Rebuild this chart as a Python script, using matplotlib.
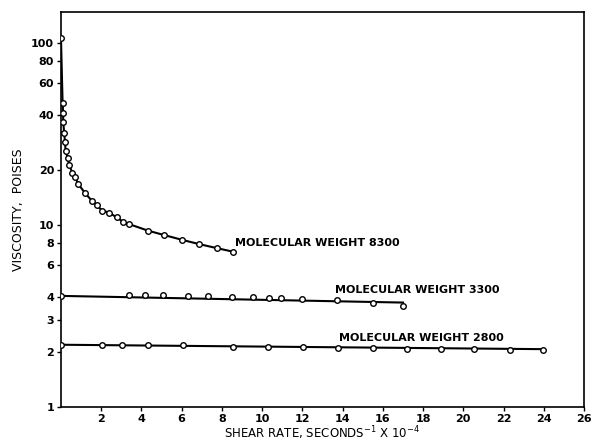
import matplotlib
matplotlib.use("Agg")
import matplotlib.pyplot as plt
from matplotlib.ticker import FixedLocator, NullLocator

# molecular weight 8300
x8300 = [0.0, 0.08, 0.11, 0.11, 0.16, 0.2, 0.23, 0.33, 0.41, 0.56, 0.70, 0.86, 1.19, 1.56, 1.78,
         2.05, 2.40, 2.77, 3.10, 3.40, 4.34, 5.14, 6.0, 6.88, 7.78, 8.57]
y8300 = [106, 47, 41, 37, 32, 28.7, 25.6, 23.4, 21.4, 19.4, 18.3, 16.8, 15.0, 13.5, 12.8,
         12.0, 11.7, 11.0, 10.4, 10.1, 9.3, 8.8, 8.3, 7.85, 7.45, 7.13]

# molecular weight 3300
x3300 = [0.0, 3.38, 4.18, 5.07, 6.32, 7.31, 8.51, 9.55, 10.35, 10.95, 11.99, 13.73, 15.52, 17.0]
y3300 = [4.1, 4.15, 4.15, 4.15, 4.05, 4.05, 4.0, 4.0, 3.95, 3.95, 3.9, 3.85, 3.75, 3.6]
line3300_x = [0.0, 17.0]
line3300_y = [4.08, 3.75]

# molecular weight 2800
x2800 = [0.0, 2.04, 3.03, 4.33, 6.07, 8.56, 10.3, 12.04, 13.78, 15.52, 17.21, 18.9, 20.55, 22.34, 23.98]
y2800 = [2.2, 2.2, 2.18, 2.18, 2.2, 2.15, 2.15, 2.13, 2.12, 2.1, 2.08, 2.08, 2.08, 2.06, 2.07]
line2800_x = [0.0, 24.0]
line2800_y = [2.2, 2.08]

xticks = [2, 4, 6, 8, 10, 12, 14, 16, 18, 20, 22, 24, 26]
yticks = [1, 2, 3, 4, 6, 8, 10, 20, 40, 60, 80, 100]

fig = plt.figure(figsize=(5.92, 4.42), dpi=100)
ax = fig.add_axes([0.103, 0.079, 0.8835, 0.894])

mk = dict(marker='o', markersize=4, markerfacecolor='white', markeredgecolor='black',
          markeredgewidth=1.0, linestyle='none', zorder=3)

ax.plot(x8300, y8300, color='black', linewidth=1.5, zorder=2)
ax.plot(x8300, y8300, **mk)
ax.plot(line3300_x, line3300_y, color='black', linewidth=1.5, zorder=2)
ax.plot(x3300, y3300, **mk)
ax.plot(line2800_x, line2800_y, color='black', linewidth=1.5, zorder=2)
ax.plot(x2800, y2800, **mk)

ax.set_yscale('log')
ax.set_xlim(0, 26)
ax.set_ylim(1, 148)
ax.xaxis.set_major_locator(FixedLocator(xticks))
ax.yaxis.set_major_locator(FixedLocator(yticks))
ax.yaxis.set_minor_locator(NullLocator())
ax.set_xticklabels([str(t) for t in xticks])
ax.set_yticklabels([str(t) for t in yticks])
ax.tick_params(direction='out', length=3, width=1, labelsize=8, pad=2)
for lab in ax.get_xticklabels() + ax.get_yticklabels():
    lab.set_fontweight('bold')
for s in ax.spines.values():
    s.set_linewidth(1.2)

tkw = dict(fontsize=8, fontweight='bold', va='center', ha='left')
ax.text(8.66, 8.0, 'MOLECULAR WEIGHT 8300', **tkw)
ax.text(13.6, 4.4, 'MOLECULAR WEIGHT 3300', **tkw)
ax.text(13.8, 2.39, 'MOLECULAR WEIGHT 2800', **tkw)

ax.set_ylabel('VISCOSITY,  POISES', fontsize=9, labelpad=4)
ax.set_xlabel(r'SHEAR RATE, SECONDS$^{-1}$ X 10$^{-4}$', fontsize=8.5, labelpad=0)

fig.savefig('out.png', dpi=100)
